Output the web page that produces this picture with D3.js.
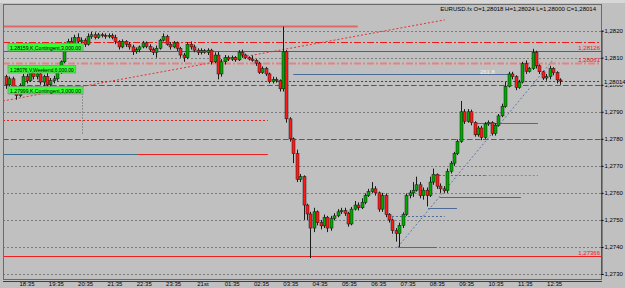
<!DOCTYPE html>
<html>
<head>
<meta charset="utf-8">
<script src="https://cdn.jsdelivr.net/npm/d3@7"></script>
<style>
  body { margin: 0; background: #c0c0c0; }
  svg { display: block; font-family: "Liberation Sans", Arial, sans-serif; }
</style>
</head>
<body>
<div id="chart"></div>
<script>
// 1: DATA (EURUSD, one candle every 7 minutes from 17:52)
const opens = [
  1.28030,1.28000,1.28022,1.27990,1.27960,1.27996,1.28030,1.28015,1.28044,1.28030,
  1.28040,1.28010,1.28030,1.28000,1.28015,1.28022,1.28048,1.28085,
  1.28130,1.28160,1.28150,1.28175,1.28160,1.28165,1.28150,1.28178,1.28185,1.28175,
  1.28185,1.28182,1.28178,1.28182,1.28175,1.28160,1.28140,1.28160,1.28150,1.28140,
  1.28122,1.28130,1.28140,1.28155,1.28142,1.28130,1.28120,1.28135,1.28165,1.28178,
  1.28150,1.28140,1.28155,1.28135,1.28110,1.28100,1.28150,1.28140,1.28128,
  1.28120,1.28126,1.28120,1.28128,1.28085,1.28110,1.28040,1.28085,1.28100,1.28095,
  1.28100,1.28092,1.28120,1.28110,1.28100,1.28095,1.28090,1.28080,1.28045,1.28060,
  1.28040,1.28012,1.28020,1.28015,1.27985,1.28122,1.27874,1.27800,1.27745,1.27650,
  1.27660,1.27555,1.27522,1.27470,1.27530,1.27490,1.27478,1.27510,1.27470,1.27505,
  1.27515,1.27530,1.27535,1.27525,1.27485,1.27540,1.27555,1.27545,1.27565,1.27590,
  1.27605,1.27615,1.27600,1.27540,1.27590,1.27520,1.27500,1.27460,1.27450,1.27480,
  1.27520,1.27590,1.27600,1.27610,1.27630,1.27590,1.27610,1.27590,1.27640,1.27668,
  1.27625,1.27615,1.27608,1.27680,1.27710,1.27745,1.27790,1.27900,1.27865,1.27900,
  1.27860,1.27815,1.27840,1.27805,1.27855,1.27860,1.27820,1.27850,1.27885,1.27920,
  1.27994,1.28040,1.28030,1.27990,1.28010,1.28078,1.28050,1.28060,1.28120,1.28070,
  1.28048,1.28025,1.28030,1.28060,1.28045,1.28018
];
const highs = [
  1.28037,1.28030,1.28030,1.27995,1.28005,1.28040,1.28040,1.28052,1.28050,1.28048,
  1.28050,1.28037,1.28044,1.28025,1.28033,1.28055,1.28090,1.28137,
  1.28170,1.28175,1.28185,1.28190,1.28175,1.28172,1.28190,1.28196,1.28194,1.28192,
  1.28192,1.28190,1.28190,1.28190,1.28185,1.28165,1.28168,1.28165,1.28158,1.28148,
  1.28138,1.28145,1.28162,1.28160,1.28150,1.28138,1.28145,1.28170,1.28190,1.28185,
  1.28158,1.28162,1.28160,1.28140,1.28118,1.28158,1.28160,1.28148,1.28135,
  1.28135,1.28132,1.28135,1.28133,1.28120,1.28122,1.28095,1.28110,1.28108,1.28108,
  1.28106,1.28128,1.28130,1.28115,1.28105,1.28108,1.28095,1.28085,1.28068,1.28066,
  1.28045,1.28030,1.28028,1.28020,1.28215,1.28128,1.27880,1.27805,1.27760,1.27670,
  1.27665,1.27560,1.27530,1.27545,1.27535,1.27500,1.27520,1.27515,1.27515,1.27525,
  1.27540,1.27545,1.27545,1.27530,1.27548,1.27570,1.27565,1.27580,1.27598,1.27615,
  1.27640,1.27625,1.27605,1.27600,1.27598,1.27525,1.27505,1.27470,1.27490,1.27528,
  1.27598,1.27610,1.27640,1.27660,1.27640,1.27620,1.27620,1.27660,1.27690,1.27672,
  1.27635,1.27625,1.27690,1.27718,1.27752,1.27798,1.27940,1.27910,1.27910,1.27908,
  1.27865,1.27848,1.27848,1.27862,1.27868,1.27865,1.27858,1.27892,1.27930,1.28010,
  1.28048,1.28048,1.28035,1.28018,1.28085,1.28090,1.28066,1.28133,1.28126,1.28075,
  1.28052,1.28040,1.28070,1.28065,1.28050,1.28024
];
const lows = [
  1.27985,1.27990,1.27978,1.27945,1.27955,1.27990,1.28005,1.28010,1.28020,1.28020,
  1.28000,1.27995,1.27990,1.27985,1.28005,1.28015,1.28040,1.28080,
  1.28125,1.28140,1.28145,1.28150,1.28150,1.28140,1.28145,1.28170,1.28168,1.28170,
  1.28175,1.28170,1.28172,1.28168,1.28150,1.28130,1.28135,1.28140,1.28130,1.28110,
  1.28115,1.28120,1.28135,1.28135,1.28122,1.28110,1.28100,1.28130,1.28160,1.28145,
  1.28130,1.28135,1.28125,1.28100,1.28085,1.28095,1.28130,1.28120,1.28110,
  1.28112,1.28115,1.28110,1.28075,1.28080,1.28020,1.28030,1.28075,1.28088,1.28088,
  1.28085,1.28088,1.28100,1.28095,1.28090,1.28085,1.28070,1.28040,1.28040,1.28033,
  1.28005,1.28005,1.28008,1.27975,1.27975,1.27860,1.27790,1.27710,1.27640,1.27640,
  1.27500,1.27500,1.27359,1.27455,1.27480,1.27465,1.27470,1.27455,1.27460,1.27498,
  1.27510,1.27522,1.27515,1.27475,1.27480,1.27535,1.27535,1.27540,1.27558,1.27585,
  1.27600,1.27590,1.27530,1.27530,1.27510,1.27490,1.27450,1.27420,1.27400,1.27470,
  1.27515,1.27580,1.27585,1.27605,1.27580,1.27575,1.27550,1.27585,1.27630,1.27615,
  1.27600,1.27600,1.27600,1.27672,1.27700,1.27740,1.27785,1.27855,1.27860,1.27850,
  1.27808,1.27808,1.27795,1.27800,1.27848,1.27812,1.27812,1.27845,1.27880,1.27915,
  1.27990,1.28020,1.27980,1.27985,1.28005,1.28040,1.28045,1.28055,1.28060,1.28040,
  1.28018,1.28015,1.28020,1.28035,1.28005,1.28000
];
const closes = [
  1.28000,1.28022,1.27990,1.27960,1.27996,1.28030,1.28015,1.28044,1.28030,1.28040,
  1.28010,1.28030,1.28000,1.28015,1.28022,1.28048,1.28085,1.28130,
  1.28160,1.28150,1.28175,1.28160,1.28165,1.28150,1.28178,1.28185,1.28175,1.28185,
  1.28182,1.28178,1.28182,1.28175,1.28160,1.28140,1.28160,1.28150,1.28140,1.28122,
  1.28130,1.28140,1.28155,1.28142,1.28130,1.28120,1.28135,1.28165,1.28178,1.28150,
  1.28140,1.28155,1.28135,1.28110,1.28100,1.28150,1.28140,1.28128,1.28120,
  1.28126,1.28120,1.28128,1.28085,1.28110,1.28040,1.28085,1.28100,1.28095,1.28100,
  1.28092,1.28120,1.28110,1.28100,1.28095,1.28090,1.28080,1.28045,1.28060,1.28040,
  1.28012,1.28020,1.28015,1.27985,1.28122,1.27874,1.27800,1.27745,1.27650,1.27660,
  1.27555,1.27522,1.27470,1.27530,1.27490,1.27478,1.27510,1.27470,1.27505,1.27515,
  1.27530,1.27535,1.27525,1.27485,1.27540,1.27555,1.27545,1.27565,1.27590,1.27605,
  1.27615,1.27600,1.27540,1.27590,1.27520,1.27500,1.27460,1.27450,1.27480,1.27520,
  1.27590,1.27600,1.27610,1.27630,1.27590,1.27610,1.27590,1.27640,1.27668,1.27625,
  1.27615,1.27608,1.27680,1.27710,1.27745,1.27790,1.27900,1.27865,1.27900,1.27860,
  1.27815,1.27840,1.27805,1.27855,1.27860,1.27820,1.27850,1.27885,1.27920,1.27994,
  1.28040,1.28030,1.27990,1.28010,1.28078,1.28050,1.28060,1.28120,1.28070,1.28048,
  1.28025,1.28030,1.28060,1.28045,1.28018,1.28014
];

const timeLabels = ["18:35","19:35","20:35","21:35","22:35","23:35","21st","01:35","02:35",
  "03:35","04:35","05:35","06:35","07:35","08:35","09:35","10:35","11:35","12:35"];
const priceTicks = [1.2730,1.2740,1.2750,1.2760,1.2770,1.2780,1.2790,1.2800,1.2810,1.2820];

// horizontal objects: price, start / end time in minutes (null = chart edge)
const levelPrices = [1.28218,1.28159,1.28126,1.28081,1.28014,1.27999,1.28041,1.27870,1.27800,
  1.27744,1.27744,1.27366,1.27859,1.27799,1.27666,1.27666,1.27585,1.27544,1.27515,1.27400];
const levelStarts = [null,null,null,null,1111,null,1660,null,null,
  null,1340,null,2036,2097,1950,2052,1960,1936,1862,1874];
const levelEnds = [1792,null,null,null,null,null,2104,1608,null,
  1340,1608,null,2161,2161,2052,2161,2126,1995,1970,1954];
const levelKinds = ["redThick","redDashDot","red","pinkDashDot","bid","redDash","blue","redDot","redDash",
  "teal","red","red","blue","blueDot","blueDot","grayDot","blue","blue","blueDot","blue"];
const levelTexts = {2: "1,28126", 3: "1,28061", 11: "1,27366"};

const orderLabels = ["1.28159,K,Contingent,3,000.00","1.28076,V,Weekend,6,000.00","1.27999,K,Contingent,3,000.00"];
const orderPrices = [1.28159, 1.28076, 1.27999];

const title = "EURUSD.fx O=1,28018 H=1,28024 L=1,28000 C=1,28014";

// 2: SETUP
const width = 625, height = 288;
const plot = { left: 3, right: 601, top: 4, bottom: 279 };
const barMinutes = 7, firstBar = 17 * 60 + 52;
const barTimes = opens.map((d, i) => firstBar + i * barMinutes);

const x = d3.scaleLinear()
  .domain([firstBar, barTimes[barTimes.length - 1]])
  .range([6, 560]);
const y = d3.scaleLinear()
  .domain([1.2730, 1.2820])
  .range([274, 30.7]);
const py = p => Math.round(y(p)) + 0.5;

const svg = d3.select("#chart").append("svg")
  .attr("width", width).attr("height", height);

svg.append("rect").attr("width", width).attr("height", height).attr("fill", "#c0c0c0");
svg.append("rect").attr("width", width).attr("height", 3).attr("fill", "#d8d8d8");

svg.append("clipPath").attr("id", "plotclip")
  .append("rect")
  .attr("x", plot.left).attr("y", plot.top)
  .attr("width", plot.right - plot.left).attr("height", plot.bottom - plot.top);

const g = svg.append("g").attr("clip-path", "url(#plotclip)");

// grid
g.selectAll(".grid").data(priceTicks).enter().append("line")
  .attr("x1", plot.left).attr("x2", plot.right)
  .attr("y1", d => py(d)).attr("y2", d => py(d))
  .attr("stroke", "#7c7c7c").attr("stroke-dasharray", "2,2");

// 3: OBJECTS
const styles = {
  redThick:    { stroke: "#e06868", width: 2, dash: null },
  redDashDot:  { stroke: "#f01818", width: 1, dash: "7,2,2,2" },
  red:         { stroke: "#f02020", width: 1, dash: null },
  pinkDashDot: { stroke: "#e88080", width: 2, dash: "7,2,2,2" },
  bid:         { stroke: "#7a2a2a", width: 1, dash: "2,2" },
  redDash:     { stroke: "#e81c1c", width: 1, dash: "5,3" },
  redDot:      { stroke: "#e82020", width: 1, dash: "2,2" },
  teal:        { stroke: "#3a7090", width: 1, dash: null },
  blue:        { stroke: "#4a6a9a", width: 1, dash: null },
  blueDot:     { stroke: "#4a6a9a", width: 1, dash: "2,2" },
  grayDot:     { stroke: "#8a8a8a", width: 1, dash: "2,2" }
};

levelPrices.forEach((p, i) => {
  const s = styles[levelKinds[i]];
  const x1 = levelStarts[i] === null ? plot.left : x(levelStarts[i]);
  const x2 = levelEnds[i] === null ? plot.right : x(levelEnds[i]);
  g.append("line")
    .attr("x1", x1).attr("x2", x2)
    .attr("y1", py(p)).attr("y2", py(p))
    .attr("stroke", s.stroke).attr("stroke-width", s.width)
    .attr("stroke-dasharray", s.dash);
  if (levelTexts[i]) {
    svg.append("text")
      .attr("x", plot.right - 1).attr("y", py(p) - 2)
      .attr("text-anchor", "end")
      .attr("font-size", 6).attr("fill", "#f01818")
      .text(levelTexts[i]);
  }
});

// fibo label
g.append("text")
  .attr("x", x(2042)).attr("y", py(1.28041) - 1)
  .attr("font-size", 6).attr("fill", "#f4f4f4")
  .text("261.8");

// trend lines
g.append("line")
  .attr("x1", plot.left).attr("y1", y(1.27940))
  .attr("x2", x(1970)).attr("y2", y(1.28240))
  .attr("stroke", "#e83030").attr("stroke-dasharray", "2,2");
g.append("line")
  .attr("x1", x(1874)).attr("y1", y(1.27400))
  .attr("x2", x(2190)).attr("y2", y(1.28088))
  .attr("stroke", "#5a7aa8").attr("stroke-dasharray", "2,2");
g.append("line")
  .attr("x1", Math.round(x(1228)) + 0.5).attr("y1", y(1.27990))
  .attr("x2", Math.round(x(1228)) + 0.5).attr("y2", y(1.27815))
  .attr("stroke", "#606060").attr("stroke-dasharray", "1,2");
g.append("line")
  .attr("x1", Math.round(x(1862)) + 0.5).attr("y1", y(1.27515))
  .attr("x2", Math.round(x(1862)) + 0.5).attr("y2", y(1.27440))
  .attr("stroke", "#4a6a9a").attr("stroke-dasharray", "2,2");

// 4: CANDLES
const candles = opens.map((o, i) => ({ t: barTimes[i], o, h: highs[i], l: lows[i], c: closes[i] }));
const cg = g.append("g");
cg.selectAll(".wick").data(candles).enter().append("line")
  .attr("x1", d => Math.round(x(d.t)) + 0.5).attr("x2", d => Math.round(x(d.t)) + 0.5)
  .attr("y1", d => y(d.h)).attr("y2", d => y(d.l))
  .attr("stroke", "#1a1a1a").attr("stroke-width", 1);
cg.selectAll(".body").data(candles).enter().append("rect")
  .attr("x", d => Math.round(x(d.t)) - 1)
  .attr("width", 3)
  .attr("y", d => y(Math.max(d.o, d.c)))
  .attr("height", d => Math.max(1, Math.abs(y(d.o) - y(d.c))))
  .attr("fill", d => d.c >= d.o ? "#00a800" : "#ff1a1a")
  .attr("stroke", "#1a1a1a").attr("stroke-width", 0.5);

// order labels
orderLabels.forEach((txt, i) => {
  const ly = py(orderPrices[i]) + 1;
  const w = txt.length * 2.45;
  svg.append("rect")
    .attr("x", 8).attr("y", ly)
    .attr("width", w + 4).attr("height", 7.5)
    .attr("fill", "#33ff33").attr("stroke", "#8c8c8c").attr("stroke-width", 0.8);
  svg.append("text")
    .attr("x", 10).attr("y", ly + 6)
    .attr("font-size", 6).attr("fill", "#000")
    .attr("textLength", w).attr("lengthAdjust", "spacingAndGlyphs")
    .text(txt);
});

// 5: FRAME & AXES
svg.append("rect")
  .attr("x", plot.left + 0.5).attr("y", plot.top + 0.5)
  .attr("width", plot.right - plot.left).attr("height", plot.bottom - plot.top)
  .attr("fill", "none").attr("stroke", "#6a6a6a");
svg.append("line")
  .attr("x1", plot.left).attr("x2", plot.right + 1)
  .attr("y1", plot.bottom + 2.5).attr("y2", plot.bottom + 2.5)
  .attr("stroke", "#404040");

const yAxis = svg.append("g")
  .attr("transform", `translate(${plot.right + 0.5},0)`)
  .call(d3.axisRight(y).tickValues(priceTicks).tickSize(2)
    .tickFormat(d => d3.format(".4f")(d).replace(".", ",")));
yAxis.select(".domain").attr("stroke", "#404040");
yAxis.selectAll("text").attr("font-size", 6).attr("fill", "#000").attr("x", 3)
  .attr("font-family", "Liberation Sans, Arial, sans-serif");

// current price label
svg.append("rect")
  .attr("x", plot.right + 2).attr("y", py(1.28014) - 3.5)
  .attr("width", 23).attr("height", 7).attr("fill", "#c0c0c0");
svg.append("text")
  .attr("x", plot.right + 3).attr("y", py(1.28014) + 2)
  .attr("font-size", 6).attr("fill", "#000")
  .text("1,28014");

// time axis
const hourTicks = timeLabels.map((d, i) => 18 * 60 + 35 + i * 60);
svg.selectAll(".tlabel").data(hourTicks).enter().append("text")
  .attr("x", d => x(d)).attr("y", 286)
  .attr("text-anchor", "middle")
  .attr("font-size", 6).attr("fill", "#000")
  .text((d, i) => timeLabels[i]);

svg.append("text")
  .attr("x", 596).attr("y", 11)
  .attr("text-anchor", "end")
  .attr("font-size", 6).attr("fill", "#000")
  .text(title);
</script>
</body>
</html>
